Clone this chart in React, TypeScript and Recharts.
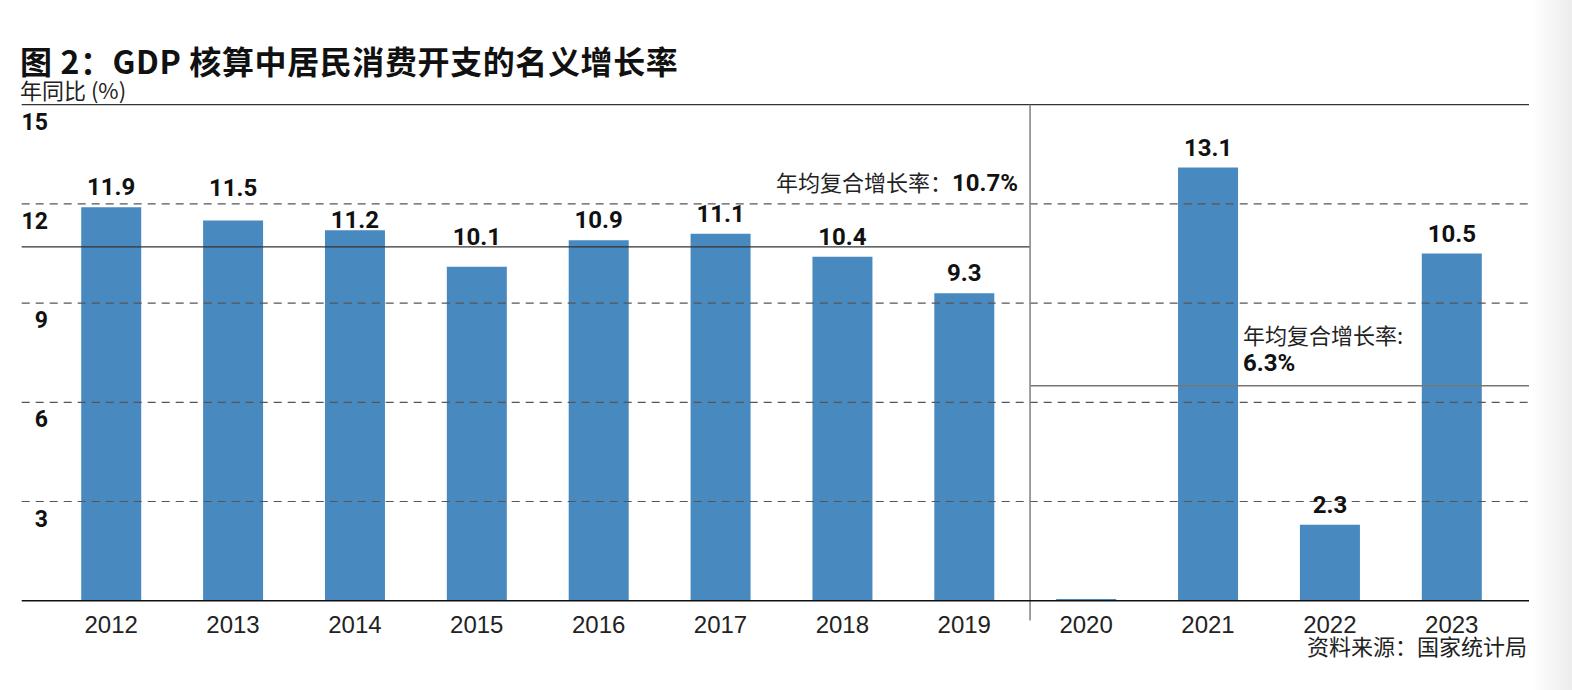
import React from 'react';
import { BarChart, Bar, XAxis, YAxis, ReferenceLine, LabelList } from 'recharts';

const years = ['2012', '2013', '2014', '2015', '2016', '2017', '2018', '2019', '2020', '2021', '2022', '2023'];
const growth = [11.9, 11.5, 11.2, 10.1, 10.9, 11.1, 10.4, 9.3, 0.05, 13.1, 2.3, 10.5];
const valueLabels = ['11.9', '11.5', '11.2', '10.1', '10.9', '11.1', '10.4', '9.3', '', '13.1', '2.3', '10.5'];
const labelNudge = [0, 12, -10, 10, 0, 0, 0, 0, 0, 0, 0, 0]; // extra lift of value labels, px
const yTicks = [0, 3, 6, 9, 12, 15];
const dashedLevels = [3, 6, 9, 12];
const cagrPre = 10.7;
const cagrPost = 6.5; // line level as drawn in the reference (label says 6.3%)
const xDomain: [number, number] = [-0.734, 11.634];
const splitAt = 7.54;

const data = years.map((y, i) => ({ idx: i, year: y, value: growth[i], label: valueLabels[i] }));
const xTickIdx = years.map((_, i) => i);

const CJK = '"Noto Sans CJK SC", "Noto Sans", sans-serif';
const NUM = 'Roboto, "Noto Sans", sans-serif';
const LAT = '"Liberation Sans", Arial, sans-serif';

const YTick = (props: any) => {
  const { y, payload } = props;
  if (payload.value === 0) return null;
  return (
    <text x={48} y={y + 25} textAnchor="end" fontFamily={NUM} fontWeight={700} fontSize={23} fill="#111">
      {payload.value}
    </text>
  );
};

const XTick = (props: any) => {
  const { x, y, payload } = props;
  return (
    <text x={x} y={y + 26} textAnchor="middle" fontFamily={LAT} fontSize={24} fill="#222">
      {years[payload.value]}
    </text>
  );
};

const ValueLabel = (props: any) => {
  const { x, y, width, index, value } = props;
  if (!value) return null;
  const nudge = labelNudge[index] || 0;
  return (
    <text
      x={Number(x) + Number(width) / 2}
      y={Number(y) - 12 - nudge}
      textAnchor="middle"
      fontFamily={NUM}
      fontWeight={700}
      fontSize={24}
      fill="#111"
    >
      {value}
    </text>
  );
};

export default function App() {
  return (
    <div style={{ position: 'absolute', left: 0, top: 0, width: 1572, height: 690, background: '#fff', overflow: 'hidden' }}>
      <div style={{ position: 'absolute', left: 1532, top: 0, width: 40, height: 690, background: 'linear-gradient(to right, #ffffff, #ececec)' }} />
      <div style={{ position: 'absolute', left: 0, top: 0 }}>
        <BarChart
          width={1572}
          height={690}
          data={data}
          margin={{ top: 104.7, right: 43, bottom: 59.3, left: 11.7 }}
        >
          <XAxis
            dataKey="idx"
            type="number"
            domain={xDomain}
            ticks={xTickIdx}
            interval={0}
            height={30}
            tickLine={false}
            tickMargin={0}
            axisLine={{ stroke: '#111', strokeWidth: 1.6 }}
            tick={<XTick />}
            allowDataOverflow
          />
          <YAxis
            type="number"
            domain={[0, 15]}
            ticks={yTicks}
            width={10}
            axisLine={false}
            tickLine={false}
            tick={<YTick />}
            interval={0}
          />
          <Bar dataKey="value" fill="#4889BF" barSize={60} isAnimationActive={false}>
            <LabelList dataKey="label" content={<ValueLabel />} />
          </Bar>
          {dashedLevels.map((v) => (
            <ReferenceLine key={v} y={v} stroke="#555" strokeWidth={1.2} strokeDasharray="8 6" />
          ))}
          <ReferenceLine y={15} stroke="#333" strokeWidth={1.3} />
          <ReferenceLine
            segment={[{ x: xDomain[0], y: cagrPre }, { x: splitAt, y: cagrPre }]}
            stroke="#333"
            strokeWidth={1.2}
          />
          <ReferenceLine
            segment={[{ x: splitAt, y: cagrPost }, { x: xDomain[1], y: cagrPost }]}
            stroke="#777"
            strokeWidth={1.5}
          />
          <ReferenceLine
            segment={[{ x: splitAt, y: 15 }, { x: splitAt, y: -0.6 }]}
            stroke="#888"
            strokeWidth={1.6}
            ifOverflow="visible"
          />
        </BarChart>
      </div>
      <svg width={1572} height={690} style={{ position: 'absolute', left: 0, top: 0, pointerEvents: 'none' }}>
        <text x={20} y={74} fontFamily={CJK} fontWeight={700} fontSize={32} letterSpacing={0.6} fill="#111">
          图 2：GDP 核算中居民消费开支的名义增长率
        </text>
        <text x={20} y={99} fontFamily={CJK} fontWeight={400} fontSize={22} fill="#222">
          年同比 (%)
        </text>
        <text x={1018} y={191} textAnchor="end" fill="#111">
          <tspan fontFamily={CJK} fontSize={22} fill="#222">年均复合增长率：</tspan>
          <tspan fontFamily={NUM} fontWeight={700} fontSize={24}>10.7%</tspan>
        </text>
        <text x={1243} y={343.5} fontFamily={CJK} fontSize={22} fill="#222">
          年均复合增长率:
        </text>
        <text x={1243} y={371} fontFamily={NUM} fontWeight={700} fontSize={24} fill="#111">
          6.3%
        </text>
        <text x={1527} y={655} textAnchor="end" fontFamily={CJK} fontSize={22} fill="#222">
          资料来源：国家统计局
        </text>
      </svg>
    </div>
  );
}
